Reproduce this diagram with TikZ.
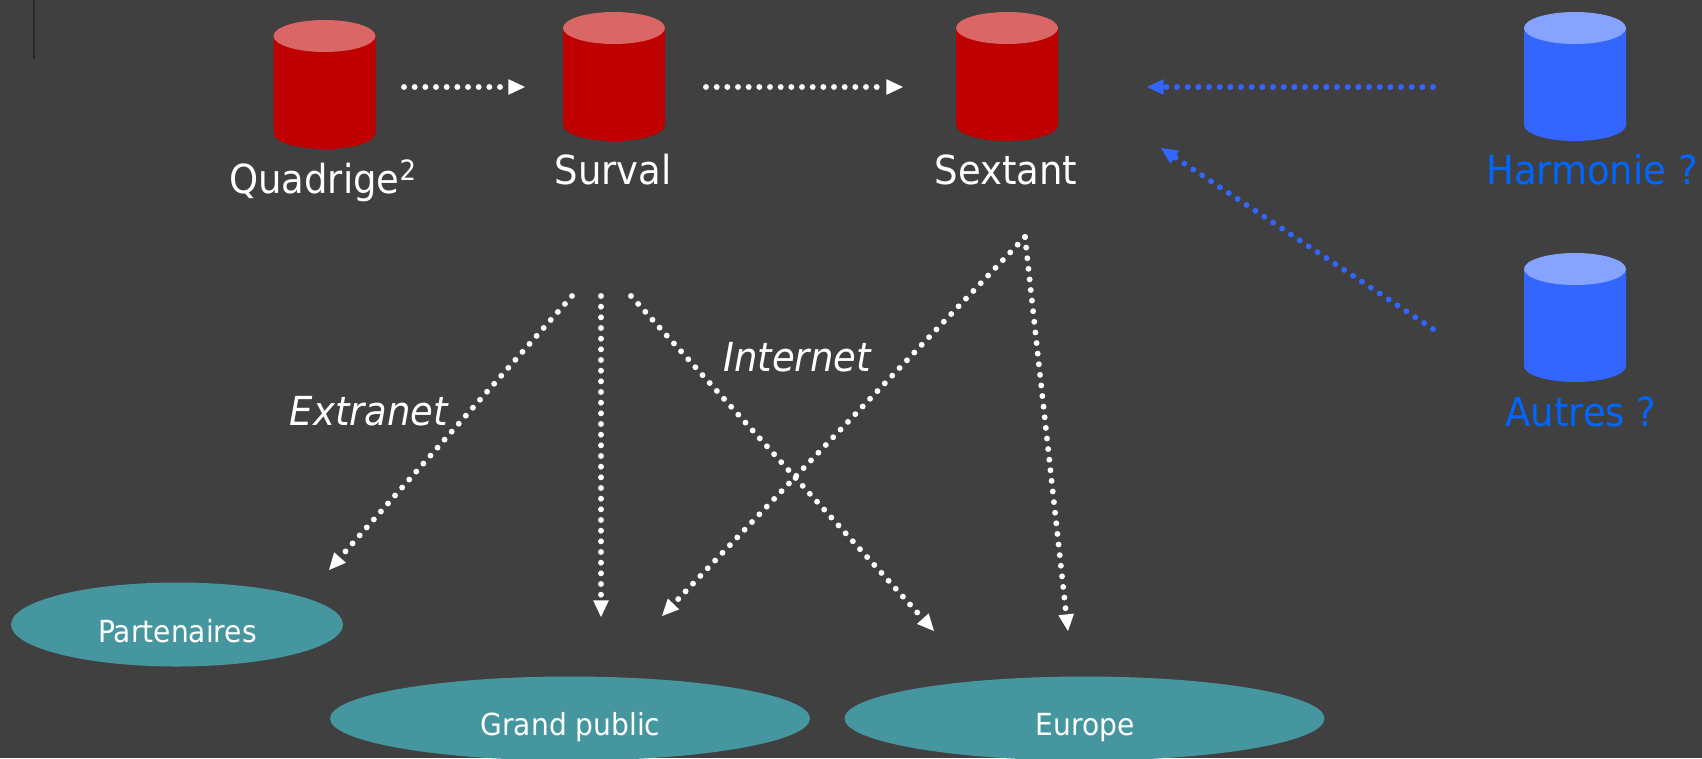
\documentclass[tikz,border=0pt]{standalone}
\usepackage{fontspec}
\setmainfont{DejaVu Sans}[FakeStretch=0.925]
\usetikzlibrary{arrows.meta,shapes.geometric}
\definecolor{bgc}{HTML}{404040}
\definecolor{redbody}{HTML}{BE0000}
\definecolor{redtop}{HTML}{DA6666}
\definecolor{bluebody}{HTML}{3366FF}
\definecolor{bluetop}{HTML}{85A3FF}
\definecolor{bluetext}{HTML}{0066FF}
\definecolor{tealc}{HTML}{4696A0}
\newcommand{\drumshape}[5]{% name, cx, top y, body colour, top colour
  \fill[#4] (#2-51,#3+16) -- (#2-51,#3+113)
    arc[start angle=180,end angle=360,x radius=51,y radius=-16]
    -- (#2+51,#3+16) -- cycle;
  \fill[#5] (#2,#3+16) ellipse[x radius=51,y radius=16];
  \coordinate (#1) at (#2,#3+64.5);
}
\tikzset{
  biglabel/.style={anchor=base,inner sep=0pt,font=\fontsize{30pt}{36pt}\selectfont,text=white},
  bluelabel/.style={biglabel,text=bluetext},
  smalllabel/.style={anchor=base,inner sep=0pt,font=\fontsize{22.8pt}{28pt}\selectfont,text=white},
  oval/.style={ellipse,fill=tealc,draw=none,inner sep=0pt},
  dotline/.style={line width=4.4pt,line cap=round,dash pattern=on 0pt off 8pt,
    -{Triangle[length=12.5pt,width=11.8pt,line width=0pt]}},
  whitedots/.style={dotline,draw=white},
  bluedots/.style={dotline,draw=bluebody}
}
\begin{document}
\begin{tikzpicture}[x=0.75pt,y=-0.75pt]
\fill[bgc] (0,0) rectangle (1702,758);
\useasboundingbox (0,0) rectangle (1702,758);
\draw[color=black!35!bgc,line width=1.2pt] (34,0) -- (34,59);

\drumshape{quadrige}{324.5}{20}{redbody}{redtop}
\drumshape{surval}{614}{12}{redbody}{redtop}
\drumshape{sextant}{1007}{12}{redbody}{redtop}
\drumshape{harmonie}{1575}{12}{bluebody}{bluetop}
\drumshape{autres}{1575}{253}{bluebody}{bluetop}

\node[biglabel] (lq) at (323,193) {Quadrige\textsuperscript{2}};
\node[biglabel] (ls) at (613,184) {Surval};
\node[biglabel] (lx) at (1006,184) {Sextant};
\node[bluelabel] (lh) at (1592,184) {Harmonie ?};
\node[bluelabel] (la) at (1581,426) {Autres ?};

\node[oval,minimum width=249pt,minimum height=63pt] (part) at (177,624.5) {};
\node[oval,minimum width=360pt,minimum height=63pt] (gp) at (570,718.5) {};
\node[oval,minimum width=360pt,minimum height=63pt] (eu) at (1084.5,718.5) {};
\node[smalllabel] (lpart) at (177.5,642) {Partenaires};
\node[smalllabel] (lgp) at (570.5,735) {Grand public};
\node[smalllabel] (leu) at (1085,735) {Europe};

\node[biglabel,font=\fontsize{30pt}{36pt}\selectfont\itshape] (lext) at (369,425) {Extranet};
\node[biglabel,font=\fontsize{30pt}{36pt}\selectfont\itshape] (lint) at (797,371) {Internet};

\coordinate (a1) at (404,87);   \coordinate (a2) at (525,87);
\coordinate (b1) at (706,87);   \coordinate (b2) at (903,87);
\coordinate (c1) at (1433,87);  \coordinate (c2) at (1147,87);
\coordinate (d1) at (1433,329); \coordinate (d2) at (1161,148);
\coordinate (e1) at (572,296);  \coordinate (e2) at (329,570);
\coordinate (f1) at (601,296);  \coordinate (f2) at (601,617);
\coordinate (g1) at (631,296);  \coordinate (g2) at (934,631);
\coordinate (h1) at (1025,237); \coordinate (h2) at (662,616);
\coordinate (i1) at (1025,237); \coordinate (i2) at (1068,631);

\draw[whitedots] (a1) -- (a2);
\draw[whitedots] (b1) -- (b2);
\draw[bluedots] (c1) -- (c2);
\draw[bluedots] (d1) -- (d2);
\draw[whitedots] (e1) -- (e2);
\draw[whitedots] (f1) -- (f2);
\draw[whitedots] (g1) -- (g2);
\draw[whitedots] (h1) -- (h2);
\draw[whitedots] (i1) -- (i2);
\end{tikzpicture}
\end{document}
